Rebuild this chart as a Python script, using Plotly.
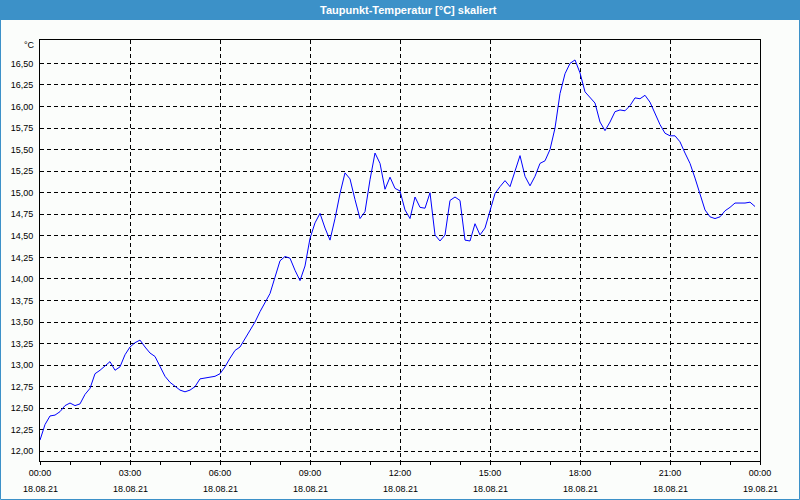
import pandas as pd
import plotly.graph_objects as go

# ---- data (10-minute samples, 18.08.21 00:00 .. 23:50) ----
start = "2021-08-18 00:00"
dew_point = [
    12.13, 12.31, 12.41, 12.42, 12.46, 12.53, 12.56, 12.53, 12.55, 12.66, 12.73, 12.90,
    12.94, 12.99, 13.04, 12.94, 12.98, 13.12, 13.21, 13.26, 13.29, 13.21, 13.14, 13.10,
    12.99, 12.87, 12.80, 12.75, 12.71, 12.69, 12.71, 12.75, 12.84, 12.85, 12.86, 12.87,
    12.90, 12.98, 13.08, 13.17, 13.21, 13.31, 13.41, 13.50, 13.62, 13.72, 13.83, 14.02,
    14.21, 14.26, 14.24, 14.10, 13.98, 14.15, 14.47, 14.65, 14.76, 14.59, 14.45, 14.70,
    14.99, 15.23, 15.16, 14.92, 14.70, 14.78, 15.15, 15.46, 15.34, 15.04, 15.18, 15.05,
    15.02, 14.80, 14.70, 14.95, 14.83, 14.82, 15.00, 14.51, 14.44, 14.51, 14.91, 14.95,
    14.91, 14.45, 14.44, 14.64, 14.51, 14.59, 14.80, 14.99, 15.07, 15.14, 15.07, 15.24,
    15.43, 15.19, 15.08, 15.19, 15.34, 15.37, 15.50, 15.75, 16.15, 16.38, 16.50, 16.54,
    16.39, 16.17, 16.11, 16.04, 15.82, 15.72, 15.82, 15.94, 15.96, 15.95, 16.01, 16.10,
    16.09, 16.13, 16.05, 15.92, 15.79, 15.69, 15.66, 15.66, 15.59, 15.46, 15.34, 15.17,
    14.99, 14.80, 14.72, 14.70, 14.72, 14.79, 14.83, 14.88, 14.88, 14.88, 14.89, 14.84,
]
times = pd.date_range(start, periods=len(dew_point), freq="10min")

x_ticks = pd.date_range("2021-08-18 00:00", "2021-08-19 00:00", freq="3h")
x_time_labels = [t.strftime("%H:%M") for t in x_ticks]
x_date_labels = [t.strftime("%d.%m.%y") for t in x_ticks]

y_ticks = [12.00 + 0.25 * i for i in range(19)]
y_labels = [f"{v:.2f}".replace(".", ",") for v in y_ticks]

title = "Taupunkt-Temperatur [°C] skaliert"
unit = "°C"

# ---- figure ----
W, H = 800, 500
L, R, T, B = 40, 40, 40, 39
pw, ph = W - L - R, H - T - B
def px_x(p): return (p - L) / pw
def px_y(p): return (H - B - p) / ph

FONT = "Liberation Sans"
BLUE = "#3c91c8"
BG = "#fbfdfb"

fig = go.Figure()
fig.add_trace(go.Scatter(x=times, y=dew_point, mode="lines",
                         line=dict(color="#0000ff", width=1), hoverinfo="skip"))

fig.update_layout(
    width=W, height=H, autosize=False,
    margin=dict(l=L, r=R, t=T, b=B, pad=0),
    paper_bgcolor=BG, plot_bgcolor=BG,
    showlegend=False,
    font=dict(family=FONT, size=9, color="#000000"),
)

fig.update_xaxes(
    range=[x_ticks[0], x_ticks[-1]],
    tickmode="array", tickvals=x_ticks, ticktext=x_time_labels,
    ticks="outside", ticklen=3, tickcolor="#000000", tickwidth=1,
    showline=True, linecolor="#000000", linewidth=1, mirror=True,
    showgrid=True, gridcolor="#000000", gridwidth=1, griddash="4px,3px",
    zeroline=False,
    minor=dict(dtick=3600000, ticks="outside", ticklen=3, tickcolor="#000000", showgrid=False),
    tickfont=dict(family=FONT, size=9, color="#000000"),
)
fig.update_yaxes(
    range=[12 - 9.7 / 86.2, 12 + 411.3 / 86.2],
    tickmode="array", tickvals=y_ticks, ticktext=y_labels,
    ticks="outside", ticklen=4, tickcolor="rgba(0,0,0,0)",
    showline=True, linecolor="#000000", linewidth=1, mirror=True,
    showgrid=True, gridcolor="#000000", gridwidth=1, griddash="4px,3px",
    zeroline=False,
    tickfont=dict(family=FONT, size=9, color="#000000"),
)

# title bar and window frame
fig.add_shape(type="rect", xref="paper", yref="paper",
              x0=px_x(0), x1=px_x(W), y0=px_y(20), y1=px_y(0),
              fillcolor=BLUE, line=dict(width=0), layer="below")
fig.add_shape(type="rect", xref="paper", yref="paper",
              x0=px_x(0.5), x1=px_x(W - 0.5), y0=px_y(H - 0.5), y1=px_y(0.5),
              line=dict(color=BLUE, width=1), fillcolor="rgba(0,0,0,0)")

fig.add_annotation(text=title, xref="paper", yref="paper",
                   x=px_x(408), y=px_y(10), xanchor="center", yanchor="middle",
                   showarrow=False, font=dict(family=FONT, size=11, color="#ffffff", weight="bold"))
fig.add_annotation(text=unit, xref="paper", yref="paper",
                   x=px_x(37), y=px_y(45), xanchor="right", yanchor="middle",
                   showarrow=False, font=dict(family=FONT, size=9, color="#000000"))
for t, lab in zip(x_ticks, x_date_labels):
    fig.add_annotation(text=lab, xref="x", yref="paper", x=t, y=px_y(489),
                       xanchor="center", yanchor="middle", showarrow=False,
                       font=dict(family=FONT, size=9, color="#000000"))

fig.write_html("out.html")
